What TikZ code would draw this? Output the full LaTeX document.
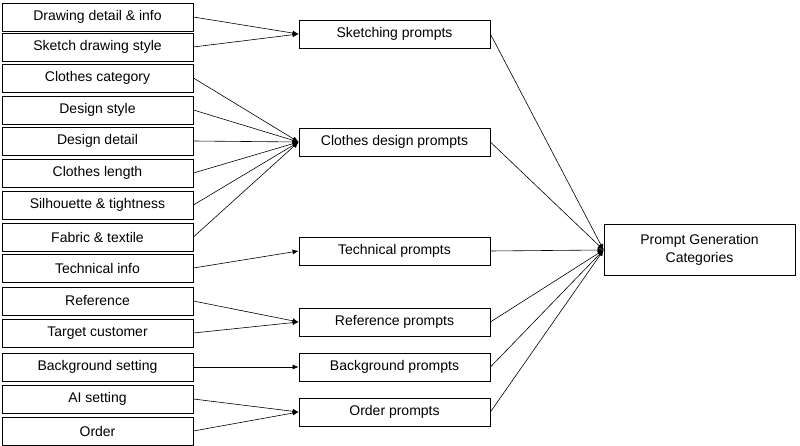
\documentclass[tikz,border=0pt]{standalone}
\usepackage{fontspec}
\setmainfont{Liberation Sans}
\usetikzlibrary{arrows.meta}
\tikzset{
  box/.style={draw, thick, minimum width=191pt, minimum height=28pt, inner sep=0pt, font=\fontsize{14}{16}\selectfont},
  big/.style={draw, thick, minimum width=191pt, minimum height=51pt, align=center, inner sep=0pt, font=\fontsize{14}{18}\selectfont},
  link/.style={-{Latex[length=6pt,width=5pt]}, semithick}
}
\begin{document}
\begin{tikzpicture}[x=1pt,y=-1pt]
  \useasboundingbox (0,0) rectangle (800,446);

  % Left column: details
  \foreach \n/\y/\t in {a/17/{Drawing detail \& info}, b/47/{Sketch drawing style},
      c/78/{Clothes category}, d/110/{Design style}, e/141/{Design detail},
      f/173/{Clothes length}, g/205/{Silhouette \& tightness}, h/237/{Fabric \& textile},
      i/268/{Technical info}, j/301/{Reference}, k/333/{Target customer},
      l/367/{Background setting}, m/399/{AI setting}, n/431/{Order}}
    \node[box] (\n) at (97.5,\y) {\t};

  % Middle column: prompt groups
  \node[box] (sk) at (394.5,34) {Sketching prompts};
  \node[box] (cd) at (394.5,142) {Clothes design prompts};
  \node[box] (te) at (394.5,251) {Technical prompts};
  \node[box] (re) at (394.5,322) {Reference prompts};
  \node[box] (bg) at (394.5,367) {Background prompts};
  \node[box] (or) at (394.5,412) {Order prompts};

  % Right: categories
  \node[big] (pg) at (699.5,250) {Prompt Generation\\Categories};

  % Links
  \foreach \s in {a,b} \draw[link] (\s.east) -- (sk.west);
  \foreach \s in {c,d,e,f,g,h} \draw[link] (\s.east) -- (cd.west);
  \draw[link] (i.east) -- (te.west);
  \foreach \s in {j,k} \draw[link] (\s.east) -- (re.west);
  \draw[link] (l.east) -- (bg.west);
  \foreach \s in {m,n} \draw[link] (\s.east) -- (or.west);
  \foreach \s in {sk,cd,te,re,bg,or} \draw[link] (\s.east) -- (pg.west);
\end{tikzpicture}
\end{document}
